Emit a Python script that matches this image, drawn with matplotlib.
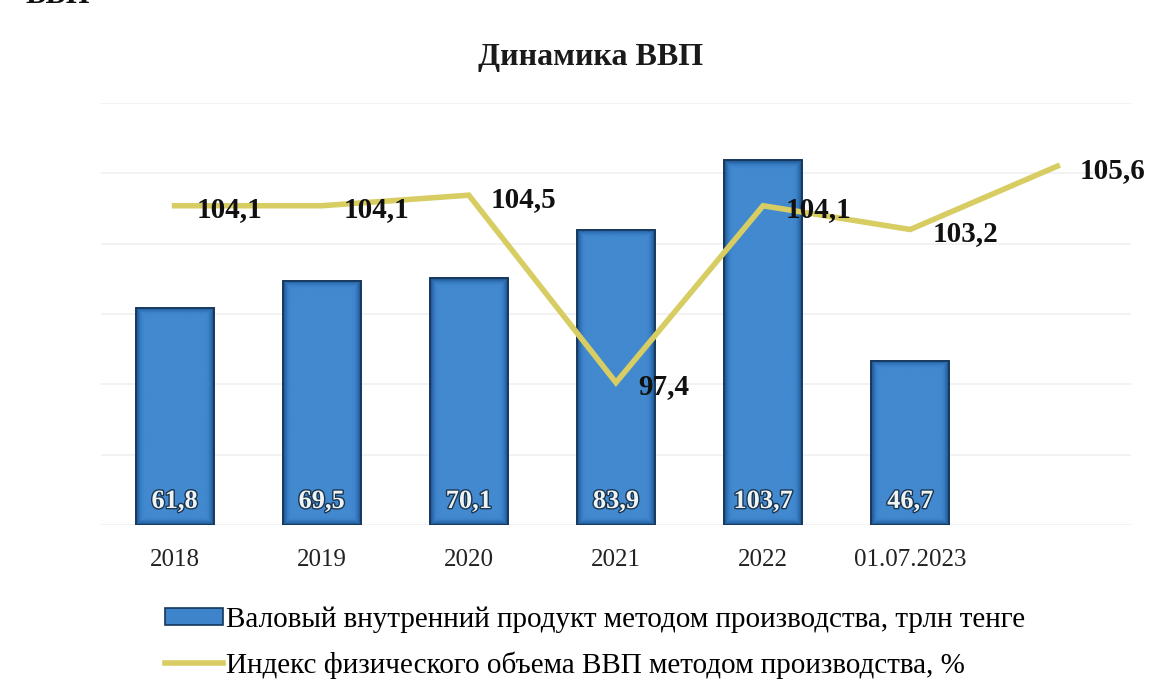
import numpy as np
import matplotlib
matplotlib.use("Agg")
import matplotlib.pyplot as plt
import matplotlib.patheffects as pe
from matplotlib.colors import LinearSegmentedColormap

plt.rcParams['font.family'] = ['Liberation Serif', 'DejaVu Serif']

categories = ['2018', '2019', '2020', '2021', '2022', '01.07.2023']
gdp = [61.8, 69.5, 70.1, 83.9, 103.7, 46.7]
gdp_index = [104.1, 104.1, 104.5, 97.4, 104.1, 103.2, 105.6]

gdp_name = 'Валовый внутренний продукт методом производства, трлн тенге'
index_name = 'Индекс физического объема ВВП методом производства, %'

line_color = '#d8cd62'
bar_dark = '#1b4c80'
bar_mid = '#3d84cb'

fig = plt.figure(figsize=(11.69, 6.9), dpi=100)
ax = fig.add_axes([0.0864, 0.239, 0.881, 0.612])

ax.set_xlim(-0.5, 6.5)
ax.set_ylim(0, 120)
ax.set_yticks(np.arange(0, 121, 20))
ax.yaxis.grid(True, color='#f0f0f0', lw=1.2)
ax.set_axisbelow(True)
ax.tick_params(left=False, labelleft=False, bottom=False, length=0)
for s in ax.spines.values():
    s.set_visible(False)

x = np.arange(len(categories))
bars = ax.bar(x, gdp, width=0.53, color=bar_mid, edgecolor='#15375c', lw=1.2, zorder=2)

# bevelled fill for each bar
bevel = LinearSegmentedColormap.from_list('bevel', [bar_dark, '#2e6fb2', bar_mid, '#4289cf'])
fig.canvas.draw()
for b in bars:
    x0, y0 = b.get_x(), b.get_y()
    w, h = b.get_width(), b.get_height()
    p0 = ax.transData.transform((x0, y0))
    p1 = ax.transData.transform((x0 + w, y0 + h))
    wp, hp = int(abs(p1[0] - p0[0])), int(abs(p1[1] - p0[1]))
    xx, yy = np.meshgrid(np.arange(wp) + 0.5, np.arange(hp) + 0.5)
    d = np.minimum(np.minimum(xx, wp - xx), np.minimum(yy, hp - yy))
    img = np.clip(d / 9.0, 0, 1)
    im = ax.imshow(img, cmap=bevel, vmin=0, vmax=1, extent=(x0, x0 + w, y0, y0 + h),
                   origin='lower', aspect='auto', zorder=2.5, interpolation='bilinear')
    im.set_clip_path(b)
    ax.add_patch(plt.Rectangle((x0, y0), w, h, fill=False, ec='#15375c', lw=1.2, zorder=2.6))

for xi, v in zip(x, gdp):
    ax.annotate(f'{v:.1f}'.replace('.', ','), (xi, 0), xytext=(0, 17), textcoords='offset points',
                ha='center', va='center', fontsize=19, color='#eef3f3', fontweight='bold', zorder=4,
                path_effects=[pe.withStroke(linewidth=2, foreground='#1a3550')])

ax.set_xticks(x)
ax.set_xticklabels(categories, fontsize=18, color='#222222')
ax.tick_params(axis='x', pad=17)

ax2 = ax.twinx()
ax2.set_ylim(92, 108)
ax2.axis('off')
xl = np.arange(len(gdp_index))
ax2.plot(xl, gdp_index, color=line_color, lw=4, solid_joinstyle='miter', zorder=3)
for xi, v in zip(xl, gdp_index):
    ax2.annotate(f'{v:.1f}'.replace('.', ','), (xi, v), xytext=(16, -3), textcoords='offset points',
                 ha='left', va='center', fontsize=21, fontweight='bold', color='#111111')

fig.text(0.505, 0.917, 'Динамика ВВП', ha='center', va='center', fontsize=23, fontweight='bold', color='#1a1a1a')
fig.text(0.022, 0.995, 'ВВП', ha='left', va='baseline', fontsize=22, fontweight='bold', color='#111111')

# legend
bar_handle = plt.Rectangle((0, 0), 1, 1, fc=bar_mid, ec='#15375c', lw=1.2)
line_handle = plt.Line2D([], [], color=line_color, lw=4)
fig.legend([bar_handle, line_handle], [gdp_name, index_name], loc='upper left',
           bbox_to_anchor=(0.131, 0.138), frameon=False, fontsize=21, handlelength=2.0,
           handleheight=0.55, handletextpad=0.1, labelspacing=0.62, borderaxespad=0)

fig.savefig('out.png', dpi=100, facecolor='white')
